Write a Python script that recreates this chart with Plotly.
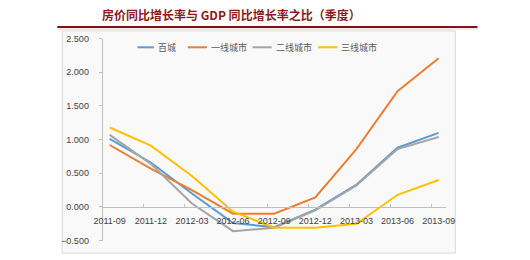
import plotly.graph_objects as go

categories = ["2011-09", "2011-12", "2012-03", "2012-06", "2012-09", "2012-12", "2013-03", "2013-06", "2013-09"]
bai_cheng = [1.01, 0.66, 0.20, -0.24, -0.30, -0.04, 0.33, 0.88, 1.10]
yi_xian = [0.92, 0.57, 0.25, -0.10, -0.10, 0.14, 0.86, 1.72, 2.21]
er_xian = [1.07, 0.64, 0.05, -0.36, -0.31, -0.05, 0.32, 0.86, 1.04]
san_xian = [1.18, 0.91, 0.46, -0.07, -0.31, -0.31, -0.25, 0.18, 0.40]
series_names = ["百城", "一线城市", "二线城市", "三线城市"]
series_colors = ["#5B9BD5", "#ED7D31", "#A5A5A5", "#FFC000"]
y_ticks = [-0.5, 0.0, 0.5, 1.0, 1.5, 2.0, 2.5]
title_text = "房价同比增长率与 GDP 同比增长率之比（季度）"

W, H = 530, 260
xs = list(range(len(categories)))
fig = go.Figure()
for name, vals, col in zip(series_names, [bai_cheng, yi_xian, er_xian, san_xian], series_colors):
    fig.add_trace(go.Scatter(x=xs, y=vals, mode="lines", name=name, showlegend=False,
                             line=dict(color=col, width=2)))

ydom = [1 - 245 / H, 1 - 35 / H]
yr = [-0.5, 2.5]
zero_pos = ydom[0] + (ydom[1] - ydom[0]) * (0 - yr[0]) / (yr[1] - yr[0])

# custom compact legend (layout positions in pixels)
legend_line_x = [(133, 150), (185, 205), (252, 272), (320, 340)]
legend_y = 1 - 44 / H
shapes = [
    dict(type="rect", xref="paper", yref="paper", x0=55 / W, x1=462 / W,
         y0=1 - 258 / H, y1=1 - 27 / H, line=dict(color="#d9d9d9", width=1),
         fillcolor="#f9f9f9", layer="below"),
    dict(type="line", xref="paper", yref="paper", x0=50 / W, x1=485 / W,
         y0=1 - 23 / H, y1=1 - 23 / H, line=dict(color="#7a1616", width=2)),
    dict(type="line", xref="paper", yref="paper", x0=50 / W, x1=485 / W,
         y0=1 - 25 / H, y1=1 - 25 / H, line=dict(color="#f3d0d0", width=1)),
]
annotations = [
    dict(text="<b>" + title_text + "</b>", xref="paper", yref="paper",
         x=230 / W, y=1 - 10 / H, xanchor="center", yanchor="middle", showarrow=False,
         font=dict(family="Noto Sans CJK SC", size=12, color="#8B1A1A")),
]
for (a, b), name, col in zip(legend_line_x, series_names, series_colors):
    shapes.append(dict(type="line", xref="paper", yref="paper", x0=a / W, x1=b / W,
                       y0=legend_y, y1=legend_y, line=dict(color=col, width=2)))
    annotations.append(dict(text=name, xref="paper", yref="paper", x=(b + 2) / W, y=legend_y,
                            xanchor="left", yanchor="middle", showarrow=False,
                            font=dict(family="Noto Sans CJK SC", size=9, color="#595959")))

fig.update_layout(
    width=W, height=H,
    margin=dict(l=0, r=0, t=0, b=0),
    paper_bgcolor="white",
    plot_bgcolor="rgba(0,0,0,0)",
    font=dict(family="Liberation Sans, Arial, Noto Sans CJK SC", size=9, color="#595959"),
    xaxis=dict(
        domain=[97 / W, 452 / W], range=[-0.17, 8.17],
        anchor="free", position=zero_pos,
        tickvals=xs, ticktext=categories, ticks="",
        showline=True, linecolor="#bfbfbf", linewidth=1,
        showgrid=False, zeroline=False, ticklabelstandoff=5,
        tickfont=dict(size=9, color="#404040"),
        minor=dict(tickvals=[i - 0.17 for i in xs], ticks="inside", ticklen=3,
                   tickcolor="#bfbfbf", showgrid=False),
    ),
    yaxis=dict(
        domain=ydom, range=yr,
        tickvals=y_ticks, tickformat=".3f",
        ticks="outside", ticklen=3, tickcolor="#bfbfbf",
        showline=True, linecolor="#bfbfbf", linewidth=1,
        showgrid=False, zeroline=False, ticklabelstandoff=8,
        tickfont=dict(size=9, color="#404040"),
    ),
    shapes=shapes,
    annotations=annotations,
)
fig.write_html("out.html")
